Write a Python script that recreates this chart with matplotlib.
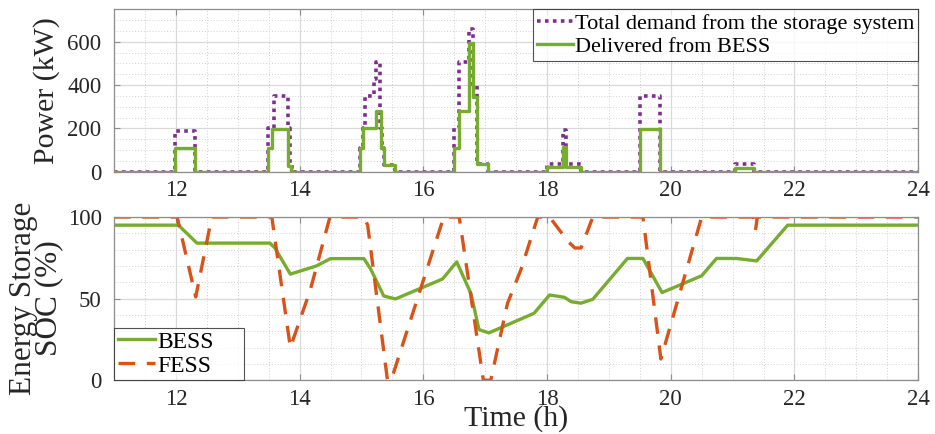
import matplotlib
matplotlib.use("Agg")
import matplotlib.pyplot as plt
from matplotlib.ticker import MultipleLocator

# ---- power profiles (step-wise, value holds until next time) ----
demand_t = [11.0, 11.99, 12.31, 13.49, 13.58, 13.82, 13.85, 13.88,
            14.98, 15.02, 15.05, 15.20, 15.23, 15.30, 15.33, 15.36, 15.54,
            16.50, 16.57, 16.74, 16.80, 16.86, 17.05,
            18.00, 18.25, 18.31, 18.55,
            19.51, 19.82, 21.04, 21.35, 24.0]
demand_kw = [0, 190, 0, 200, 350, 200, 30, 0,
             110, 200, 350, 430, 505, 200, 110, 30, 0,
             200, 505, 660, 400, 34, 0,
             38, 192, 38, 0,
             350, 0, 38, 0, 0]

bess_t = [11.0, 11.98, 12.31, 13.49, 13.55, 13.82, 13.86,
          14.98, 15.03, 15.24, 15.31, 15.36, 15.54,
          16.50, 16.57, 16.74, 16.80, 16.86, 17.05,
          18.00, 18.25, 18.31, 18.55,
          19.51, 19.82, 21.04, 21.35, 24.0]
bess_kw = [0, 110, 0, 110, 197, 25, 0,
           110, 200, 280, 110, 30, 0,
           110, 280, 593, 346, 34, 0,
           23, 115, 23, 0,
           197, 0, 18, 0, 0]

# ---- state of charge ----
soc_bess_t = [11.0, 12.04, 12.34, 13.52, 13.60, 13.85, 14.27, 14.50, 15.04, 15.15,
              15.36, 15.55, 16.31, 16.54, 16.77, 16.90, 17.06, 17.79, 18.04,
              18.28, 18.39, 18.55, 18.74, 19.30, 19.55, 19.86, 20.50, 20.74,
              21.06, 21.39, 21.89, 24.0]
soc_bess = [95, 95, 84, 84, 81, 65, 70, 74.5, 74.5, 68,
            51.6, 49.8, 62, 72.5, 53, 31, 29, 41, 52.2,
            50.8, 48.1, 47.2, 49.6, 74.6, 74.6, 53.7, 64, 74.6,
            74.6, 73.1, 95, 95]

soc_fess_t = [11.0, 12.02, 12.32, 12.58, 13.55, 13.85, 14.17, 14.49, 15.04, 15.10,
              15.42, 15.48, 16.33, 16.58, 16.97, 17.09, 17.36, 17.58, 17.85,
              18.04, 18.34, 18.45, 18.55, 18.74, 19.55, 19.84, 20.50, 21.34,
              21.37, 21.40, 24.0]
soc_fess = [100, 100, 51, 100, 100, 20, 55, 100, 100, 95,
            0, 0, 100, 100, 0, 0, 47, 68, 100,
            100, 85, 81, 81, 100, 100, 13, 100, 100,
            92, 100, 100]

x_ticks = [12, 14, 16, 18, 20, 22, 24]
power_ticks = [0, 200, 400, 600]
soc_ticks = [0, 50, 100]

GREEN = "#77AC30"
PURPLE = "#7E2F8E"
ORANGE = "#D95319"
SPINE = "#8c8c8c"
TXT = "#262626"

plt.rcParams["font.family"] = ["Liberation Serif", "DejaVu Serif"]

fig = plt.figure(figsize=(9.35, 4.34), dpi=100)
ax1 = fig.add_axes([0.122, 0.604, 0.860, 0.375])
ax2 = fig.add_axes([0.122, 0.124, 0.860, 0.376])


def style(ax):
    ax.set_xlim(11, 24)
    ax.set_xticks(x_ticks)
    ax.xaxis.set_minor_locator(MultipleLocator(0.5))
    ax.grid(which="major", color="#d9d9d9", linewidth=0.9, linestyle="-")
    ax.grid(which="minor", color="#d0d0d0", linewidth=0.7, linestyle=(0, (1, 2)))
    ax.set_axisbelow(True)
    for s in ax.spines.values():
        s.set_color(SPINE)
        s.set_linewidth(0.9)
    ax.tick_params(which="both", direction="in", colors=SPINE, labelcolor=TXT,
                   labelsize=16.5, top=True, right=True)
    ax.tick_params(which="major", length=4)
    ax.tick_params(which="minor", length=0)
    ax.tick_params(axis="y", pad=9)
    ax.tick_params(axis="x", pad=6)


# top: power
ax1.step(demand_t, demand_kw, where="post", color=PURPLE, linewidth=2.6,
         linestyle=(0, (1, 1.2)), label="Total demand from the storage system")
ax1.step(bess_t, bess_kw, where="post", color=GREEN, linewidth=2.4,
         label="Delivered from BESS")
style(ax1)
ax1.set_ylim(0, 750)
ax1.set_yticks(power_ticks)
ax1.yaxis.set_minor_locator(MultipleLocator(50))
ax1.set_ylabel("Power (kW)", fontsize=21.5, color=TXT, labelpad=5)
leg1 = ax1.legend(loc="upper right", fontsize=16, frameon=True, fancybox=False,
                  handlelength=1.6, handletextpad=0.1, borderpad=0.18,
                  labelspacing=0.12, borderaxespad=0.0)
leg1.get_frame().set_edgecolor(TXT)
leg1.get_frame().set_linewidth(0.8)

# bottom: state of charge
ax2.plot(soc_bess_t, soc_bess, color=GREEN, linewidth=2.4, label="BESS")
ax2.plot(soc_fess_t, soc_fess, color=ORANGE, linewidth=2.4,
         linestyle=(0, (5, 3.5)), label="FESS")
style(ax2)
ax2.set_ylim(0, 100)
ax2.set_yticks(soc_ticks)
ax2.yaxis.set_minor_locator(MultipleLocator(10))
ax2.set_ylabel("Energy Storage\nSOC (%)", fontsize=22.5, color=TXT, labelpad=3,
               linespacing=0.85)
ax2.set_xlabel("Time (h)", fontsize=21.5, color=TXT, labelpad=-3)
leg2 = ax2.legend(loc="lower left", bbox_to_anchor=(0.0, 0.0, 0.162, 1.0),
                  mode="expand", fontsize=17, frameon=True, fancybox=False,
                  handlelength=1.6, handletextpad=0.1, borderpad=0.15,
                  borderaxespad=0.0, labelspacing=0.1)
leg2.get_frame().set_edgecolor(TXT)
leg2.get_frame().set_linewidth(0.8)

fig.savefig("out.png", dpi=100, facecolor="white")
